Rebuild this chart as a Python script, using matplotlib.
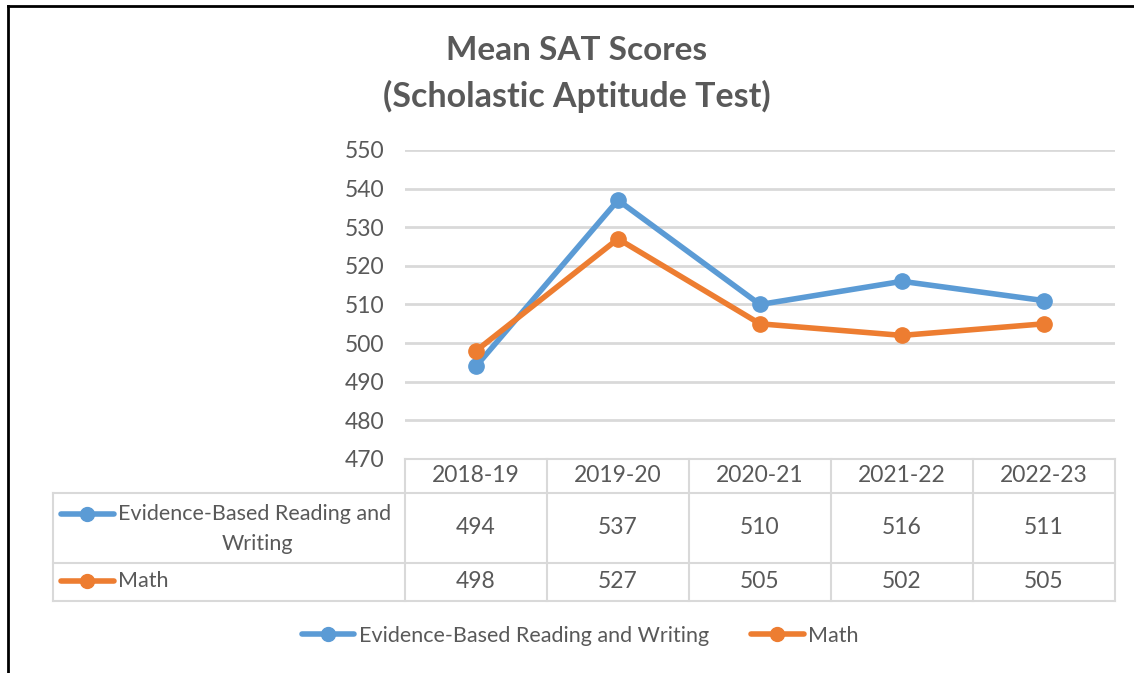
import matplotlib
matplotlib.use("Agg")
import matplotlib.pyplot as plt
from matplotlib.lines import Line2D

plt.rcParams['font.family'] = ['Lato', 'DejaVu Sans']

# --------------------------------------
# Data
# --------------------------------------
years = ["2018-19", "2019-20", "2020-21", "2021-22", "2022-23"]
reading_writing = [494, 537, 510, 516, 511]
math_scores = [498, 527, 505, 502, 505]
series_names = ["Evidence-Based Reading and Writing", "Math"]
yticks = [470, 480, 490, 500, 510, 520, 530, 540, 550]

blue = "#5B9BD5"
orange = "#ED7D31"
text_gray = "#595959"
grid_gray = "#D9D9D9"

W, H = 1134, 673
fig = plt.figure(figsize=(W / 100, H / 100), dpi=100)


def fx(px):
    return px / W


def fy(py):
    return 1 - py / H


FS_TXT = 15.5
FS_NUM = 16.5

# --------------------------------------
# Main axes
# --------------------------------------
ax_l, ax_r, ax_t, ax_b = 405, 1115, 150, 459
ax = fig.add_axes([fx(ax_l), fy(ax_b), fx(ax_r - ax_l), (ax_b - ax_t) / H])
x = list(range(len(years)))
ax.plot(x, reading_writing, color=blue, lw=4, marker="o", ms=11, solid_capstyle="round", zorder=3)
ax.plot(x, math_scores, color=orange, lw=4, marker="o", ms=11, solid_capstyle="round", zorder=3)
ax.set_xlim(-0.5, len(years) - 0.5)
ax.set_ylim(yticks[0], yticks[-1])
ax.set_yticks(yticks)
ax.set_xticks([])
ax.yaxis.grid(True, color=grid_gray, lw=2)
ax.set_axisbelow(True)
for s in ax.spines.values():
    s.set_visible(False)
ax.tick_params(axis="y", length=0, pad=15, labelsize=FS_NUM, labelcolor=text_gray)

# --------------------------------------
# Title
# --------------------------------------
fig.text(fx(577), fy(51), "Mean SAT Scores", ha="center", va="center",
         fontsize=24, fontweight="bold", color=text_gray)
fig.text(fx(577), fy(96), "(Scholastic Aptitude Test)", ha="center", va="center",
         fontsize=24.5, fontweight="bold", color=text_gray)

# --------------------------------------
# Data table
# --------------------------------------
tbl_left = 53
row_edges = [459, 493, 563, 601]
col_w = (ax_r - ax_l) / len(years)
col_edges = [ax_l + i * col_w for i in range(len(years) + 1)]
lkw = dict(color=grid_gray, lw=1.5, transform=fig.transFigure)

# horizontal lines
fig.add_artist(Line2D([fx(ax_l), fx(ax_r)], [fy(row_edges[0])] * 2, **lkw))
for r in row_edges[1:]:
    fig.add_artist(Line2D([fx(tbl_left), fx(ax_r)], [fy(r)] * 2, **lkw))
# vertical lines
for c in col_edges:
    fig.add_artist(Line2D([fx(c)] * 2, [fy(row_edges[0]), fy(row_edges[-1])], **lkw))
fig.add_artist(Line2D([fx(tbl_left)] * 2, [fy(row_edges[1]), fy(row_edges[-1])], **lkw))

tkw = dict(fontsize=FS_NUM, color=text_gray, ha="center", va="center")
for i, yr in enumerate(years):
    cx = fx((col_edges[i] + col_edges[i + 1]) / 2)
    fig.text(cx, fy((row_edges[0] + row_edges[1]) / 2), yr, **tkw)
    fig.text(cx, fy((row_edges[1] + row_edges[2]) / 2), str(reading_writing[i]), **tkw)
    fig.text(cx, fy((row_edges[2] + row_edges[3]) / 2), str(math_scores[i]), **tkw)

# row headers with legend keys
for color, ky in [(blue, 514), (orange, 581)]:
    fig.add_artist(Line2D([fx(61), fx(114)], [fy(ky)] * 2, color=color, lw=4,
                          solid_capstyle="round", transform=fig.transFigure))
    fig.add_artist(Line2D([fx(87)], [fy(ky)], color=color, marker="o", ms=10,
                          transform=fig.transFigure))
fig.text(fx(118), fy(514), "Evidence-Based Reading and", fontsize=FS_TXT, color=text_gray,
         ha="left", va="center")
fig.text(fx(257), fy(544), "Writing", fontsize=FS_TXT, color=text_gray, ha="center", va="center")
fig.text(fx(118), fy(581), series_names[1], fontsize=FS_TXT, color=text_gray, ha="left", va="center")

# --------------------------------------
# Bottom legend
# --------------------------------------
handles = [Line2D([], [], color=blue, lw=4, marker="o", ms=10, solid_capstyle="round"),
           Line2D([], [], color=orange, lw=4, marker="o", ms=10, solid_capstyle="round")]
fig.legend(handles, series_names, loc="center", bbox_to_anchor=(fx(580), fy(636)), ncol=2,
           frameon=False, fontsize=FS_TXT, labelcolor=text_gray, handlelength=2.45,
           handletextpad=0.2, columnspacing=1.95)

# --------------------------------------
# Outer border (top and left only)
# --------------------------------------
fig.add_artist(Line2D([fx(7.5), 1], [fy(6)] * 2, color="black", lw=2, transform=fig.transFigure))
fig.add_artist(Line2D([fx(7.5)] * 2, [fy(6), 0], color="black", lw=2, transform=fig.transFigure))

fig.savefig("out.png", dpi=100, facecolor="white")
